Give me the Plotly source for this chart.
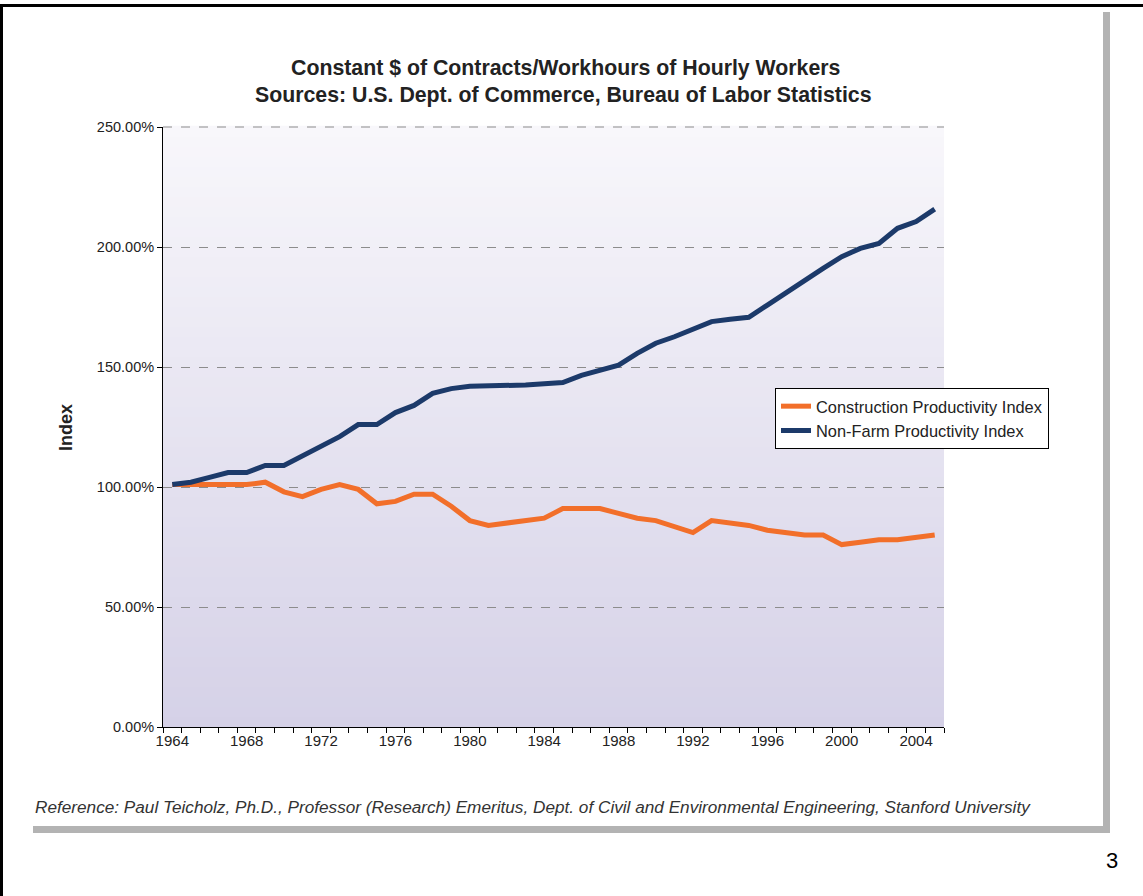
import plotly.graph_objects as go

years = list(range(1964, 2006))
construction = [101, 101, 101, 101, 101, 102, 98, 96, 99, 101,
                99, 93, 94, 97, 97, 92, 86, 84, 85, 86,
                87, 91, 91, 91, 89, 87, 86, 83.5, 81, 86,
                85, 84, 82, 81, 80, 80, 76, 77, 78, 78,
                79, 80]
nonfarm = [101, 102, 104, 106, 106, 109, 109, 113, 117, 121,
           126, 126, 131, 134, 139, 141, 142, 142, 142, 142.5,
           143, 143.5, 146.5, 148.5, 150.8, 155.7, 159.9, 162.6, 165.7, 168.9,
           169.9, 170.7, 175.8, 181, 186.3, 191.1, 196, 199.4, 201.5, 207.8,
           210.6, 215.8]
ytick_vals = [0, 50, 100, 150, 200, 250]
ytick_text = ["0.00%", "50.00%", "100.00%", "150.00%", "200.00%", "250.00%"]
xtick_vals = list(range(1964, 2005, 4))

W, H = 1143, 896
L, R, T, B = 163, 944, 127, 727
FONT = "Liberation Sans, Arial, Helvetica, sans-serif"


def px(x):
    return (x - L) / (R - L)


def py(y):
    return (B - y) / (B - T)


fig = go.Figure()
fig.add_trace(go.Scatter(x=years, y=construction, mode="lines",
                         name="Construction Productivity Index",
                         line=dict(color="#F26F2A", width=5)))
fig.add_trace(go.Scatter(x=years, y=nonfarm, mode="lines",
                         name="Non-Farm Productivity Index",
                         line=dict(color="#1C3A6A", width=5)))

shapes = []
# gradient plot background
n = 60
top = (248, 247, 251)
bot = (213, 209, 231)
for i in range(n):
    t = (i + 0.5) / n
    c = tuple(round(bot[k] + (top[k] - bot[k]) * t) for k in range(3))
    shapes.append(dict(type="rect", xref="x domain", yref="y domain",
                       x0=0, x1=1, y0=i / n, y1=(i + 1) / n + 0.002,
                       fillcolor="rgb(%d,%d,%d)" % c, line=dict(width=0),
                       layer="below"))
# top gridline (at the edge of the axis range)
shapes.append(dict(type="line", xref="x domain", yref="y domain",
                   x0=0, x1=1, y0=1, y1=1, layer="below",
                   line=dict(color="#8c8c8c", width=1, dash="dash")))
# page borders
shapes.append(dict(type="rect", xref="paper", yref="paper",
                   x0=px(0), x1=px(3), y0=py(896), y1=py(4),
                   fillcolor="black", line=dict(width=0)))
shapes.append(dict(type="rect", xref="paper", yref="paper",
                   x0=px(0), x1=px(1143), y0=py(7), y1=py(4),
                   fillcolor="black", line=dict(width=0)))
# shadow
shapes.append(dict(type="rect", xref="paper", yref="paper",
                   x0=px(1103), x1=px(1110), y0=py(833), y1=py(12),
                   fillcolor="#b3b3b3", line=dict(width=0)))
shapes.append(dict(type="rect", xref="paper", yref="paper",
                   x0=px(33), x1=px(1110), y0=py(833), y1=py(826),
                   fillcolor="#b3b3b3", line=dict(width=0)))

annotations = [
    dict(text="<b>Constant $ of Contracts/Workhours of Hourly Workers</b>",
         xref="paper", yref="paper", x=px(565), y=py(68), showarrow=False,
         xanchor="center", yanchor="middle", font=dict(size=21.3, color="#222", family=FONT)),
    dict(text="<b>Sources: U.S. Dept. of Commerce, Bureau of Labor Statistics</b>",
         xref="paper", yref="paper", x=px(563), y=py(95), showarrow=False,
         xanchor="center", yanchor="middle", font=dict(size=21.3, color="#222", family=FONT)),
    dict(text="<b>Index</b>", xref="paper", yref="paper", x=px(66), y=py(428),
         showarrow=False, textangle=-90, xanchor="center", yanchor="middle",
         font=dict(size=18, color="#222", family=FONT)),
    dict(text="<i>Reference: Paul Teicholz, Ph.D., Professor (Research) Emeritus, Dept. of Civil and Environmental Engineering, Stanford University</i>",
         xref="paper", yref="paper", x=px(33), y=py(807), showarrow=False,
         xanchor="left", yanchor="middle", font=dict(size=17.2, color="#333", family=FONT)),
    dict(text="3", xref="paper", yref="paper", x=px(1112), y=py(860), showarrow=False,
         xanchor="center", yanchor="middle", font=dict(size=22, color="black", family=FONT)),
]

fig.update_layout(
    width=W, height=H,
    margin=dict(l=L, r=W - R, t=T, b=H - B, autoexpand=False),
    paper_bgcolor="white", plot_bgcolor="rgba(0,0,0,0)",
    font=dict(family=FONT, size=15, color="#222"),
    shapes=shapes, annotations=annotations,
    showlegend=True,
    legend=dict(x=px(775), y=py(388), xanchor="left", yanchor="top",
                bgcolor="white", bordercolor="black", borderwidth=1,
                font=dict(size=16.4, color="#222", family=FONT),
                itemwidth=30, tracegroupgap=0),
)
fig.update_xaxes(range=[1963.5, 2005.5], tickvals=xtick_vals,
                 ticktext=[str(v) for v in xtick_vals],
                 ticks="", showgrid=False, zeroline=False,
                 showline=True, linecolor="black", linewidth=1,
                 tickfont=dict(size=15, color="#222"),
                 minor=dict(ticks="outside", tick0=1963.5, dtick=1, ticklen=5,
                            tickcolor="black", showgrid=False))
fig.update_yaxes(range=[0, 250], tickvals=ytick_vals, ticktext=ytick_text,
                 ticks="outside", ticklen=5, tickcolor="black",
                 showgrid=True, gridcolor="#8c8c8c", griddash="dash", gridwidth=1,
                 zeroline=False, showline=True, linecolor="black", linewidth=1,
                 tickfont=dict(size=14.5, color="#222"))

fig.write_html("out.html", config={"displayModeBar": False},
               post_script="document.body.style.margin='0px';document.body.style.padding='0px';")
